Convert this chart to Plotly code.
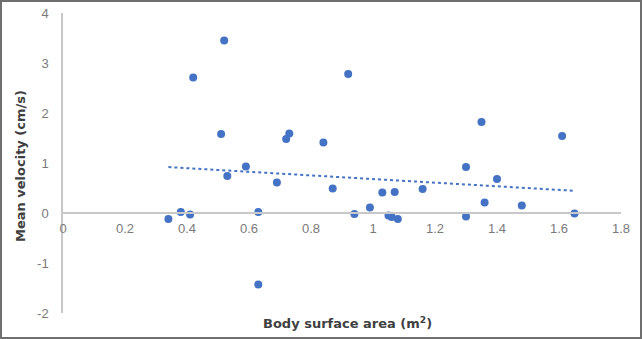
import numpy as np
import plotly.graph_objects as go

bsa = [0.34, 0.38, 0.41, 0.42, 0.51, 0.52, 0.53, 0.59, 0.63, 0.63, 0.69, 0.72, 0.73,
       0.84, 0.87, 0.92, 0.94, 0.99, 1.03, 1.05, 1.06, 1.07, 1.08, 1.16, 1.30, 1.30,
       1.35, 1.36, 1.40, 1.48, 1.61, 1.65]
velocity = [-0.12, 0.02, -0.03, 2.71, 1.58, 3.45, 0.74, 0.93, 0.02, -1.43, 0.61, 1.48, 1.59,
            1.41, 0.49, 2.78, -0.02, 0.11, 0.41, -0.05, -0.08, 0.42, -0.12, 0.48, 0.92, -0.07,
            1.82, 0.21, 0.68, 0.15, 1.54, -0.01]
x_ticks = [0, 0.2, 0.4, 0.6, 0.8, 1, 1.2, 1.4, 1.6, 1.8]
x_tick_labels = ["0", "0.2", "0.4", "0.6", "0.8", "1", "1.2", "1.4", "1.6", "1.8"]
y_ticks = [-2, -1, 0, 1, 2, 3, 4]
y_tick_labels = ["-2", "-1", "0", "1", "2", "3", "4"]

slope, intercept = np.polyfit(bsa, velocity, 1)
tx = [min(bsa), max(bsa)]
ty = [slope * v + intercept for v in tx]

BLUE = "#4472C4"
TICK = "#7a7a7a"
TITLE = "#404040"
TFONT = "DejaVu Sans, Verdana, sans-serif"

fig = go.Figure()
fig.add_trace(go.Scatter(x=tx, y=ty, mode="lines",
                         line=dict(color=BLUE, width=2, dash="dot"), showlegend=False))
fig.add_trace(go.Scatter(x=bsa, y=velocity, mode="markers",
                         marker=dict(color=BLUE, size=8), showlegend=False))

W, H = 642, 339
ml, mr, mt, mb = 63, 21, 13, 26
pw, ph = W - ml - mr, H - mt - mb

fig.update_layout(
    width=W, height=H,
    margin=dict(l=ml, r=mr, t=mt, b=mb, autoexpand=False),
    paper_bgcolor="white", plot_bgcolor="white",
    font=dict(family="Liberation Sans, Arial, sans-serif", color=TICK, size=13),
    xaxis=dict(range=[0, 1.8], tickvals=x_ticks, ticktext=x_tick_labels,
               showgrid=False, zeroline=False, showline=True, linecolor="#c8c8c8",
               linewidth=1.5, anchor="free", position=1/3, ticks="",
               automargin=False, ticklabelstandoff=4,
               tickfont=dict(size=13, color=TICK)),
    yaxis=dict(range=[-2, 4], tickvals=y_ticks, ticktext=y_tick_labels,
               showgrid=False, zeroline=False, showline=True, linecolor="#c8c8c8",
               linewidth=1.5, ticks="", ticklabelstandoff=10, automargin=False,
               tickfont=dict(size=13, color=TICK)),
    annotations=[
        dict(text="<b>Body surface area (m<sup>2</sup>)</b>", xref="paper", yref="paper",
             x=(347 - ml) / pw, y=-(323 - (H - mb)) / ph, showarrow=False,
             font=dict(size=13, color=TITLE, family=TFONT),
             xanchor="center", yanchor="middle"),
        dict(text="<b>Mean velocity (cm/s)</b>", xref="paper", yref="paper",
             x=-(ml - 20) / pw, y=(H - mb - 166) / ph, showarrow=False, textangle=-90,
             font=dict(size=13, color=TITLE, family=TFONT),
             xanchor="center", yanchor="middle"),
    ],
    shapes=[dict(type="rect", xref="paper", yref="paper",
                 x0=-(ml - 1) / pw, x1=1 + (mr - 1) / pw,
                 y0=-(mb - 1) / ph, y1=1 + (mt - 1) / ph,
                 line=dict(color="#6f6f6f", width=2))],
)
fig.write_html("out.html", config={"displayModeBar": False},
               post_script="document.body.style.margin='0';document.body.style.overflow='hidden';")
